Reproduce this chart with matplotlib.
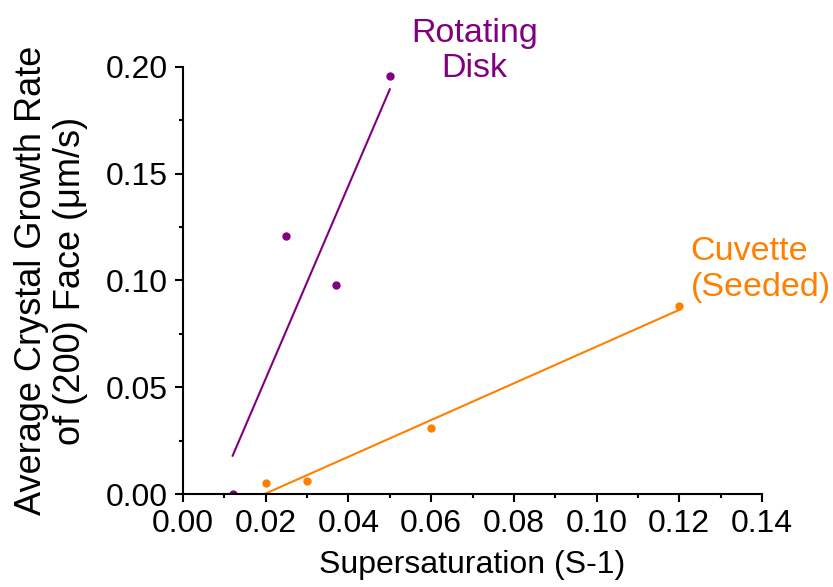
import numpy as np
import matplotlib
matplotlib.use('Agg')
import matplotlib.pyplot as plt
from matplotlib.ticker import MultipleLocator

plt.rcParams['font.family'] = ['Liberation Sans', 'DejaVu Sans']

# data
disk_x = [0.012, 0.025, 0.037, 0.050]
disk_y = [0.000, 0.121, 0.098, 0.196]
cuv_x = [0.02, 0.03, 0.06, 0.12]
cuv_y = [0.005, 0.006, 0.031, 0.088]

purple = '#800080'
orange = '#ff8000'

fig = plt.figure(figsize=(8.33, 5.87), dpi=100)
ax = fig.add_axes([0.2197, 0.1584, 0.6951, 0.7275])

# points
ax.plot(disk_x, disk_y, 'o', color=purple, ms=5)
ax.plot(cuv_x, cuv_y, 'o', color=orange, ms=5)

# linear fits
for xs, ys, c in [(disk_x, disk_y, purple), (cuv_x, cuv_y, orange)]:
    k, b = np.polyfit(xs, ys, 1)
    xx = np.array([min(xs), max(xs)])
    ax.plot(xx, k * xx + b, '-', color=c, lw=1.5)

ax.set_xlim(0, 0.14)
ax.set_ylim(0, 0.20)
ax.xaxis.set_major_locator(MultipleLocator(0.02))
ax.xaxis.set_minor_locator(MultipleLocator(0.01))
ax.yaxis.set_major_locator(MultipleLocator(0.05))
ax.yaxis.set_minor_locator(MultipleLocator(0.025))
ax.xaxis.set_major_formatter(plt.FormatStrFormatter('%.2f'))
ax.yaxis.set_major_formatter(plt.FormatStrFormatter('%.2f'))

for s in ['top', 'right']:
    ax.spines[s].set_visible(False)
for s in ['left', 'bottom']:
    ax.spines[s].set_linewidth(1.5)
ax.tick_params(which='major', direction='out', length=6, width=1.5, labelsize=23, pad=5)
ax.tick_params(which='minor', direction='out', length=3, width=1.5)

ax.set_xlabel('Supersaturation (S-1)', fontsize=23, labelpad=8)
ax.set_ylabel('Average Crystal Growth Rate\nof (200) Face (\u03bcm/s)', fontsize=26, labelpad=13,
              linespacing=1.15)

ax.text(0.0704, 0.2075, 'Rotating\nDisk', color=purple, fontsize=24.5,
        ha='center', va='center', clip_on=False, multialignment='center')
ax.text(0.1227, 0.105, 'Cuvette\n(Seeded)', color=orange, fontsize=24.5,
        ha='left', va='center', clip_on=False, multialignment='left')

fig.savefig('out.png', dpi=100)
